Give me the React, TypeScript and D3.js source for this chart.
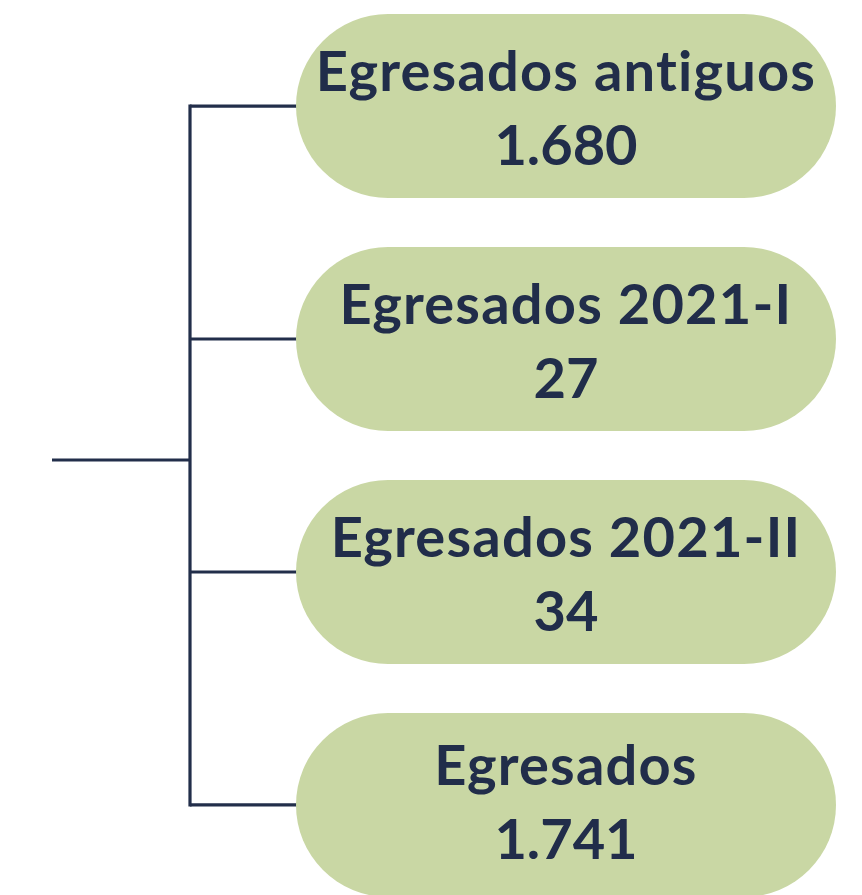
import { useEffect, useRef } from 'react';
import * as d3 from 'd3';

// categories and values
const labels = ['Egresados antiguos', 'Egresados 2021-I', 'Egresados 2021-II', 'Egresados'];
const values = [1680, 27, 34, 1741];

const width = 862;
const height = 895;

const App = () => {
    const svgRef = useRef<SVGSVGElement>(null);

    useEffect(() => {
        document.body.style.margin = '0';
        if (!svgRef.current) return;

        d3.select(svgRef.current).selectAll('*').remove();

        const svg = d3.select(svgRef.current)
            .attr('width', width)
            .attr('height', height);

        // Spanish style grouping: 1.680
        const fmt = d3.formatLocale({
            decimal: ',',
            thousands: '.',
            grouping: [3],
            currency: ['', ' €']
        }).format(',d');

        const yScale = d3.scaleBand<string>()
            .domain(labels)
            .range([14, 897])
            .paddingInner(0.21)
            .paddingOuter(0);

        const pillX = 296;
        const pillW = 540;
        const bw = yScale.bandwidth();
        const centerY = (d: string) => (yScale(d) as number) + bw / 2;

        const trunkX = 190;
        const trunkStartX = 52;
        const trunkY = 460;
        const lineColor = '#222e4a';

        // connectors
        const g = svg.append('g');
        g.append('line')
            .attr('x1', trunkStartX).attr('x2', trunkX)
            .attr('y1', trunkY).attr('y2', trunkY)
            .attr('stroke', lineColor).attr('stroke-width', 3.2);

        g.append('line')
            .attr('x1', trunkX).attr('x2', trunkX)
            .attr('y1', centerY(labels[0]) - 1.6)
            .attr('y2', centerY(labels[labels.length - 1]) + 1.6)
            .attr('stroke', lineColor).attr('stroke-width', 3.2);

        g.selectAll('.branch')
            .data(labels)
            .enter()
            .append('line')
            .attr('class', 'branch')
            .attr('x1', trunkX).attr('x2', pillX + 2)
            .attr('y1', d => centerY(d)).attr('y2', d => centerY(d))
            .attr('stroke', lineColor).attr('stroke-width', 3.2);

        // pills
        const nodes = svg.selectAll('.node')
            .data(labels)
            .enter()
            .append('g')
            .attr('class', 'node');

        nodes.append('rect')
            .attr('x', pillX)
            .attr('y', d => yScale(d) as number)
            .attr('width', pillW)
            .attr('height', bw)
            .attr('rx', bw / 2)
            .attr('fill', '#c9d7a4');

        const text = nodes.append('text')
            .attr('text-anchor', 'middle')
            .attr('fill', '#212d4a')
            .style('font-family', 'Lato, "Open Sans", sans-serif')
            .style('font-weight', 'bold')
            .style('font-size', '56px');

        text.append('tspan')
            .attr('x', pillX + pillW / 2)
            .attr('y', (d, i) => centerY(d) - (i === labels.length - 1 ? 20 : 15))
            .style('letter-spacing', '1.2px')
            .text(d => d);

        text.append('tspan')
            .attr('x', pillX + pillW / 2)
            .attr('y', (d, i) => centerY(d) + (i === labels.length - 1 ? 54 : 59))
            .text((d, i) => fmt(values[i]));
    }, []);

    return (
        <svg ref={svgRef} role="img" aria-label="Diagrama de egresados" style={{ display: 'block' }}></svg>
    );
};

export default App;
